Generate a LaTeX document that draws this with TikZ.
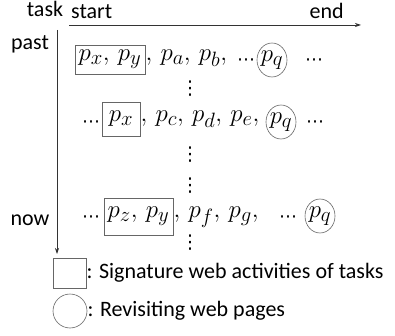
\documentclass[tikz,border=0pt]{standalone}
\usepackage{fontspec}
\setmainfont{Carlito}
\newfontfamily\dotsfont{DejaVu Sans}
\usetikzlibrary{arrows.meta,shapes.geometric,calc}
\newcommand{\sq}{\mathpunct{,}\,}
\tikzset{
  lbl/.style={font=\fontsize{22}{26}\selectfont, inner sep=0pt},
  seq/.style={font=\fontsize{28}{32}\selectfont, inner sep=0pt},
  dotsrow/.style={font=\dotsfont\fontsize{18}{20}\selectfont, inner sep=0pt},
  dotscol/.style={font=\dotsfont\fontsize{19}{22}\selectfont, inner sep=0pt},
  sigbox/.style={draw=black!60, line width=0.6pt, rectangle, inner sep=0pt, font=\fontsize{28}{32}\selectfont},
  revisit/.style={draw=black!60, line width=0.6pt, ellipse, inner sep=-1pt, minimum width=30pt, minimum height=34pt, font=\fontsize{28}{32}\selectfont},
  axis/.style={draw=black!80, line width=0.7pt, -{Stealth[length=6pt,width=4pt]}},
}
\begin{document}
\begin{tikzpicture}[x=1pt,y=-1pt]
\useasboundingbox (0,0) rectangle (395,336);

% axis labels
\node[lbl, anchor=base] (task) at (45,17) {task};
\node[lbl, anchor=base west] (start) at (71,19) {start};
\node[lbl, anchor=base east] (end) at (344,19) {end};
\node[lbl, anchor=base] (past) at (30,50) {past};
\node[lbl, anchor=base] (now) at (30,225) {now};

% time axes
\coordinate (hx0) at (69,25);
\coordinate (hx1) at (361,25);
\coordinate (vy0) at (57,30);
\coordinate (vy1) at (57,254);
\draw[axis] (hx0) -- (hx1);
\draw[axis] (vy0) -- (vy1);

% first row
\node[sigbox, minimum width=70pt, minimum height=29pt] (b1) at (110,59.5) {$p_x\sq p_y$};
\node[seq, anchor=base west] (r1) at (b1.base -| b1.east) {$\sq p_a\sq p_b\sq$};
\node[dotsrow] (m1) at (246,62) {⋯};
\node[revisit] (c1) at (272,60) {$p_q$};
\node[dotsrow] (e1) at (314,62) {⋯};
\node[dotscol] (d1) at (190,89) {⋮};

% second row
\node[dotsrow] (s2) at (91,124) {⋯};
\node[sigbox, minimum width=38pt, minimum height=34pt] (b2) at (121,119) {$p_x$};
\node[seq, anchor=base west] (r2) at (b2.base -| b2.east) {$\sq p_c\sq p_d\sq p_e\sq$};
\node[revisit] (c2) at (281,122) {$p_q$};
\node[dotsrow] (e2) at (315,124) {⋯};
\node[dotscol] (d2) at (190,155) {⋮};
\node[dotscol] (d3) at (190,186) {⋮};

% third row
\node[dotsrow] (s3) at (91,219) {⋯};
\node[sigbox, minimum width=69pt, minimum height=37pt] (b3) at (138.5,216.5) {$p_z\sq p_y$};
\node[seq, anchor=base west] (r3) at (b3.base -| b3.east) {$\sq p_f\sq p_g\sq$};
\node[dotsrow] (e3) at (288,219) {⋯};
\node[revisit] (c3) at (320,216) {$p_q$};
\node[dotscol] (d4) at (190,243) {⋮};

% legend
\node[sigbox, minimum width=33pt, minimum height=30pt] (lb) at (69.5,273) {};
\node[lbl, anchor=west] (lbt) at (lb.east) {: Signature web activities of tasks};
\node[draw=black!60, line width=0.6pt, ellipse, minimum width=34pt, minimum height=34pt, inner sep=0pt] (lc) at (70,311) {};
\node[lbl, anchor=west] (lct) at (lc.east) {: Revisiting web pages};
\end{tikzpicture}
\end{document}
